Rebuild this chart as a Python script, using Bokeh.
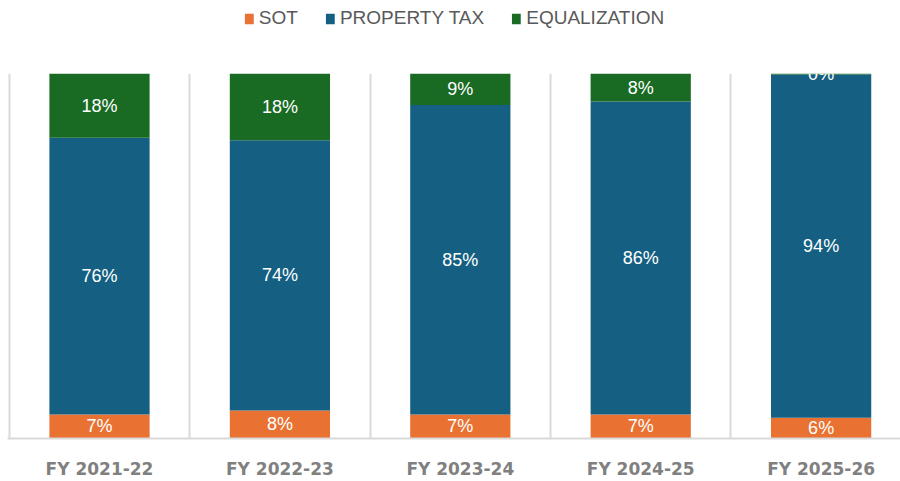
import numpy as np
from bokeh.plotting import figure
from bokeh.layouts import column
from bokeh.models import ColumnDataSource, Legend, LegendItem, FixedTicker
from bokeh.core.properties import value
from bokeh.embed import file_html
from bokeh.resources import INLINE

years = ["FY 2021-22", "FY 2022-23", "FY 2023-24", "FY 2024-25", "FY 2025-26"]
sot = [6.6, 7.7, 6.6, 6.6, 5.7]
property_tax = [75.8, 74.0, 84.8, 85.7, 94.0]
equalization = [17.6, 18.3, 8.6, 7.7, 0.3]

series = ["SOT", "PROPERTY TAX", "EQUALIZATION"]
colors = ["#E97132", "#156082", "#196B24"]

x = np.arange(len(years)) + 0.5
sot_a = np.array(sot)
pt_a = np.array(property_tax)
eq_a = np.array(equalization)

src = ColumnDataSource(dict(x=x, SOT=sot, PT=property_tax, EQ=equalization))

p = figure(width=900, height=441, x_range=(-0.01, 4.94), y_range=(0, 100),
           output_backend="svg", toolbar_location=None, y_axis_location=None,
           min_border_left=7, min_border_right=0, min_border_top=33, min_border_bottom=39)
p.outline_line_color = None
p.background_fill_color = "white"
p.border_fill_color = "white"

rs = p.vbar_stack(["SOT", "PT", "EQ"], x="x", width=100 / 180, color=colors,
                  line_color=None, source=src)

# labels
lab_x, lab_y, lab_t = [], [], []
bottoms = np.zeros(len(years))
for arr in (sot_a, pt_a, eq_a):
    for i in range(len(years)):
        lab_x.append(x[i])
        lab_y.append(bottoms[i] + arr[i] / 2)
        lab_t.append(f"{int(np.floor(arr[i] + 0.5))}%")
    bottoms = bottoms + arr
lsrc = ColumnDataSource(dict(x=lab_x, y=lab_y, t=lab_t))
p.text(x="x", y="y", text="t", source=lsrc, text_color="white",
       text_font=value("Liberation Sans"), text_font_size="18px",
       text_align="center", text_baseline="middle")

# axes / grid
p.xaxis.ticker = FixedTicker(ticks=list(x))
p.xaxis.major_label_overrides = {float(v): years[i] for i, v in enumerate(x)}
p.xaxis.major_label_text_font = "DejaVu Sans"
p.xaxis.major_label_text_font_style = "bold"
p.xaxis.major_label_text_font_size = "17px"
p.xaxis.major_label_text_color = "#808080"
p.xaxis.major_label_standoff = 14
p.xaxis.axis_line_color = "#D9D9D9"
p.xaxis.axis_line_width = 2
p.xaxis.major_tick_line_color = None
p.xaxis.minor_tick_line_color = None

p.xgrid.ticker = FixedTicker(ticks=[0, 1, 2, 3, 4, 5])
p.xgrid.grid_line_color = "#D9D9D9"
p.xgrid.grid_line_width = 2
p.ygrid.grid_line_color = None

# legend in its own strip above the chart
lf = figure(width=900, height=40, x_range=(0, 1), y_range=(0, 1),
            output_backend="svg", toolbar_location=None,
            x_axis_location=None, y_axis_location=None,
            min_border_left=0, min_border_right=0, min_border_top=0, min_border_bottom=0)
lf.outline_line_color = None
lf.xgrid.visible = False
lf.ygrid.visible = False
dummy_src = ColumnDataSource(dict(x=[0.5], top=[0.0]))
dummies = [lf.vbar(x="x", top="top", bottom=0.0, width=0.0, fill_color=c, line_color=None,
                   source=dummy_src) for c in colors]

legend = Legend(items=[LegendItem(label=series[i], renderers=[dummies[i]]) for i in range(3)],
                orientation="horizontal", location="top_center")
legend.label_text_font = "Liberation Sans"
legend.label_text_font_size = "19px"
legend.label_text_color = "#595959"
legend.glyph_width = 11
legend.glyph_height = 13
legend.label_standoff = 5
legend.spacing = 26
legend.padding = 0
legend.margin = 7
legend.border_line_color = None
legend.background_fill_alpha = 0
lf.add_layout(legend, "center")

layout = column(lf, p, spacing=0)
open("out.html", "w").write(file_html(layout, INLINE))
